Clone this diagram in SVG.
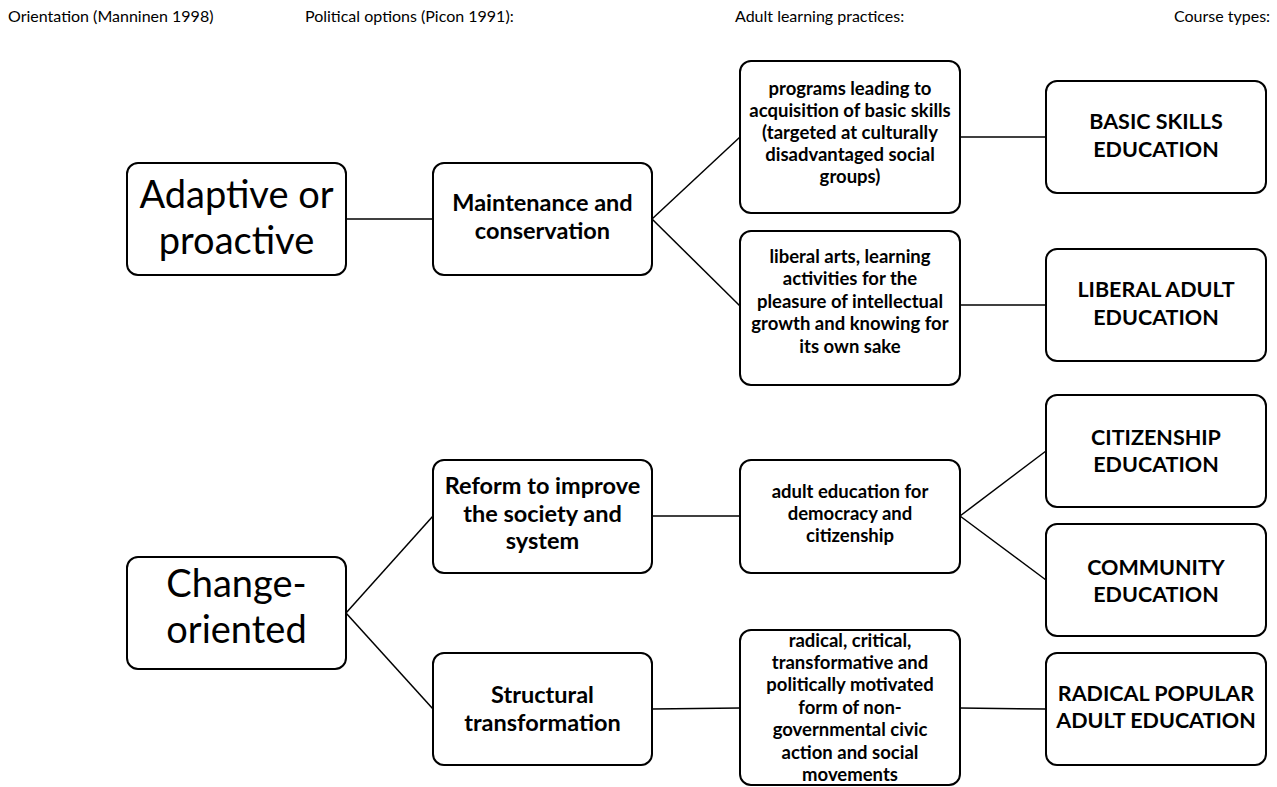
<svg xmlns="http://www.w3.org/2000/svg" width="1277" height="787" viewBox="0 0 1277 787">
<style>
  .box { fill: #ffffff; stroke: #000000; stroke-width: 2; }
  .conn line { stroke: #000000; stroke-width: 1.5; }
  text { font-family: Lato, "Open Sans", sans-serif; fill: #000000; text-anchor: middle; }
  .hdr { font-size: 16px; text-anchor: start; }
  .big { font-size: 38px; }
  .mid { font-size: 23.5px; font-weight: bold; }
  .small { font-size: 18.5px; font-weight: bold; }
  .cap { font-size: 21.5px; font-weight: bold; }
</style>
<rect width="1277" height="787" fill="#ffffff"/>

<g id="headers">
  <text class="hdr" x="8" y="22">Orientation (Manninen 1998)</text>
  <text class="hdr" x="305" y="22">Political options (Picon 1991):</text>
  <text class="hdr" x="735" y="22">Adult learning practices:</text>
  <text class="hdr" x="1174" y="22">Course types:</text>
</g>

<g id="connectors" class="conn">
  <line x1="346" y1="219" x2="433" y2="219"/>
  <line x1="652" y1="219" x2="740" y2="137"/>
  <line x1="652" y1="219" x2="740" y2="306"/>
  <line x1="960" y1="137" x2="1046" y2="137"/>
  <line x1="960" y1="305" x2="1046" y2="305"/>
  <line x1="346" y1="613" x2="433" y2="516"/>
  <line x1="346" y1="613" x2="433" y2="709"/>
  <line x1="652" y1="516" x2="740" y2="516"/>
  <line x1="652" y1="709" x2="740" y2="708"/>
  <line x1="960" y1="516" x2="1046" y2="451"/>
  <line x1="960" y1="516" x2="1046" y2="580"/>
  <line x1="960" y1="708" x2="1046" y2="709"/>
</g>

<g id="node-adaptive">
  <rect class="box" x="127" y="163" width="219" height="112" rx="11"/>
  <text class="big" x="236.5" y="208">Adaptive or</text>
  <text class="big" x="236.5" y="254">proactive</text>
</g>

<g id="node-maintenance">
  <rect class="box" x="433" y="163" width="219" height="112" rx="11"/>
  <text class="mid" x="542.5" y="211">Maintenance and</text>
  <text class="mid" x="542.5" y="239">conservation</text>
</g>

<g id="node-basic-programs">
  <rect class="box" x="740" y="61" width="220" height="152" rx="11"/>
  <text class="small" x="850" y="95">programs leading to</text>
  <text class="small" x="850" y="117">acquisition of basic skills</text>
  <text class="small" x="850" y="139">(targeted at culturally</text>
  <text class="small" x="850" y="161">disadvantaged social</text>
  <text class="small" x="850" y="183">groups)</text>
</g>

<g id="node-liberal-arts">
  <rect class="box" x="740" y="231" width="220" height="154" rx="11"/>
  <text class="small" x="850" y="263">liberal arts, learning</text>
  <text class="small" x="850" y="285">activities for the</text>
  <text class="small" x="850" y="308">pleasure of intellectual</text>
  <text class="small" x="850" y="330">growth and knowing for</text>
  <text class="small" x="850" y="353">its own sake</text>
</g>

<g id="node-basic-skills">
  <rect class="box" x="1046" y="81" width="220" height="112" rx="11"/>
  <text class="cap" x="1156" y="129">BASIC SKILLS</text>
  <text class="cap" x="1156" y="157">EDUCATION</text>
</g>

<g id="node-liberal-adult">
  <rect class="box" x="1046" y="249" width="220" height="112" rx="11"/>
  <text class="cap" x="1156" y="297">LIBERAL ADULT</text>
  <text class="cap" x="1156" y="325">EDUCATION</text>
</g>

<g id="node-change">
  <rect class="box" x="127" y="557" width="219" height="112" rx="11"/>
  <text class="big" x="236.5" y="597">Change-</text>
  <text class="big" x="236.5" y="643">oriented</text>
</g>

<g id="node-reform">
  <rect class="box" x="433" y="460" width="219" height="113" rx="11"/>
  <text class="mid" x="542.5" y="494">Reform to improve</text>
  <text class="mid" x="542.5" y="522">the society and</text>
  <text class="mid" x="542.5" y="549">system</text>
</g>

<g id="node-structural">
  <rect class="box" x="433" y="653" width="219" height="112" rx="11"/>
  <text class="mid" x="542.5" y="703">Structural</text>
  <text class="mid" x="542.5" y="731">transformation</text>
</g>

<g id="node-democracy">
  <rect class="box" x="740" y="460" width="220" height="113" rx="11"/>
  <text class="small" x="850" y="498">adult education for</text>
  <text class="small" x="850" y="520">democracy and</text>
  <text class="small" x="850" y="542">citizenship</text>
</g>

<g id="node-radical">
  <rect class="box" x="740" y="630" width="220" height="155" rx="11"/>
  <text class="small" x="850" y="647">radical, critical,</text>
  <text class="small" x="850" y="669">transformative and</text>
  <text class="small" x="850" y="691">politically motivated</text>
  <text class="small" x="850" y="714">form of non-</text>
  <text class="small" x="850" y="736">governmental civic</text>
  <text class="small" x="850" y="759">action and social</text>
  <text class="small" x="850" y="781">movements</text>
</g>

<g id="node-citizenship">
  <rect class="box" x="1046" y="395" width="220" height="112" rx="11"/>
  <text class="cap" x="1156" y="445">CITIZENSHIP</text>
  <text class="cap" x="1156" y="472">EDUCATION</text>
</g>

<g id="node-community">
  <rect class="box" x="1046" y="524" width="220" height="112" rx="11"/>
  <text class="cap" x="1156" y="575">COMMUNITY</text>
  <text class="cap" x="1156" y="602">EDUCATION</text>
</g>

<g id="node-radical-popular">
  <rect class="box" x="1046" y="653" width="220" height="112" rx="11"/>
  <text class="cap" x="1156" y="701">RADICAL POPULAR</text>
  <text class="cap" x="1156" y="728">ADULT EDUCATION</text>
</g>
</svg>
